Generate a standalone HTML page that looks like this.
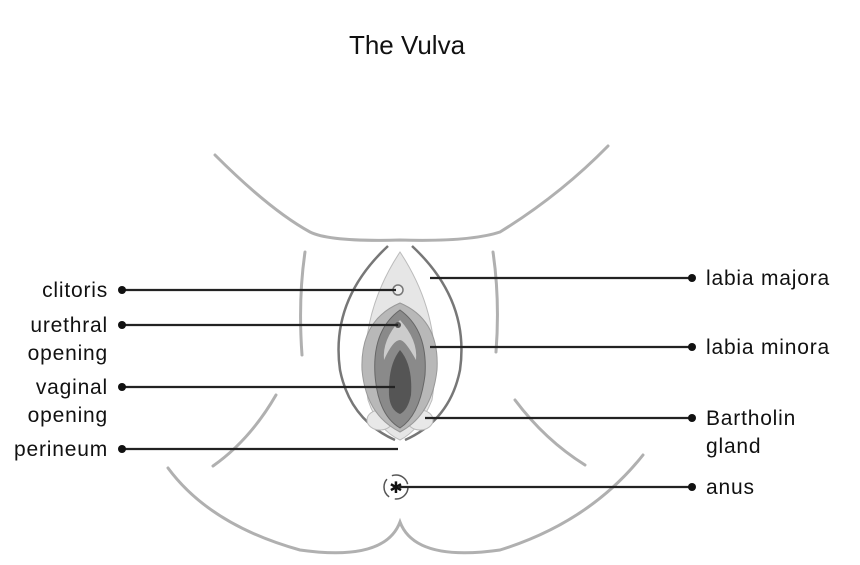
<!DOCTYPE html>
<html><head><style>
body{margin:0;background:#fff;}
svg{display:block;}
text{font-family:"Liberation Sans",sans-serif;fill:#111;}
</style></head><body>
<svg width="860" height="565" viewBox="0 0 860 565">
<text x="407" y="54" font-size="26" text-anchor="middle">The Vulva</text>
<g fill="none" stroke="#b0b0b0" stroke-width="3" stroke-linecap="round">
<path d="M215 155 Q270 210 310 232 Q330 242 400 240 Q470 242 500 232 Q560 195 608 146"/>
<path d="M168 468 Q210 525 300 550 Q385 562 400 522 Q415 562 500 550 Q590 522 643 455"/>
<path d="M305 252 Q298 300 302 355"/>
<path d="M493 252 Q500 300 496 352"/>
<path d="M276 395 Q250 440 213 466"/>
<path d="M515 400 Q545 440 585 465"/>
</g>
<g stroke="#777" stroke-width="2.5" fill="none">
<path d="M388 246 Q330 300 340 370 Q350 420 395 440"/>
<path d="M412 246 Q470 300 460 370 Q450 420 405 440"/>
</g>
<path d="M400 252 Q445 320 432 400 Q420 430 400 440 Q378 430 368 400 Q355 320 400 252Z" fill="#e6e6e6" stroke="#bbb"/>
<ellipse cx="380" cy="420" rx="13" ry="10" fill="#e8e8e8" stroke="#bbb"/>
<ellipse cx="420" cy="420" rx="13" ry="10" fill="#e8e8e8" stroke="#bbb"/>
<path d="M400 303 Q440 320 437 370 Q432 415 400 432 Q366 415 362 370 Q360 320 400 303Z" fill="#b8b8b8" stroke="#999"/>
<path d="M400 310 Q428 330 425 375 Q420 415 400 428 Q378 415 375 375 Q372 330 400 310Z" fill="#8a8a8a" stroke="#666"/>
<path d="M400 320 Q418 340 416 360 Q405 340 400 340 Q393 340 384 360 Q382 340 400 320Z" fill="#ccc"/>
<path d="M400 350 Q413 365 411 395 Q408 410 400 414 Q390 410 389 395 Q388 365 400 350Z" fill="#555"/>
<circle cx="398" cy="290" r="5" fill="#eee" stroke="#777" stroke-width="1.5"/>
<circle cx="398" cy="325" r="3" fill="#555"/>
<circle cx="396" cy="487" r="12" fill="none" stroke="#555" stroke-width="1.5" stroke-dasharray="20 6"/>
<text x="396" y="493" font-size="16" text-anchor="middle" fill="#333">✱</text>
<g stroke="#222" stroke-width="2.2">
<line x1="122" y1="290" x2="396" y2="290"/>
<line x1="122" y1="325" x2="398" y2="325"/>
<line x1="122" y1="387" x2="395" y2="387"/>
<line x1="122" y1="449" x2="398" y2="449"/>
<line x1="430" y1="278" x2="692" y2="278"/>
<line x1="430" y1="347" x2="692" y2="347"/>
<line x1="425" y1="418" x2="692" y2="418"/>
<line x1="398" y1="487" x2="692" y2="487"/>
</g>
<g fill="#111">
<circle cx="122" cy="290" r="4"/><circle cx="122" cy="325" r="4"/><circle cx="122" cy="387" r="4"/><circle cx="122" cy="449" r="4"/>
<circle cx="692" cy="278" r="4"/><circle cx="692" cy="347" r="4"/><circle cx="692" cy="418" r="4"/><circle cx="692" cy="487" r="4"/>
</g>
<g font-size="21" letter-spacing="0.8">
<text x="108" y="297" text-anchor="end">clitoris</text>
<text x="108" y="332" text-anchor="end">urethral</text>
<text x="108" y="360" text-anchor="end">opening</text>
<text x="108" y="394" text-anchor="end">vaginal</text>
<text x="108" y="422" text-anchor="end">opening</text>
<text x="108" y="456" text-anchor="end">perineum</text>
<text x="706" y="285">labia majora</text>
<text x="706" y="354">labia minora</text>
<text x="706" y="425">Bartholin</text>
<text x="706" y="453">gland</text>
<text x="706" y="494">anus</text>
</g>
</svg>
</body></html>
